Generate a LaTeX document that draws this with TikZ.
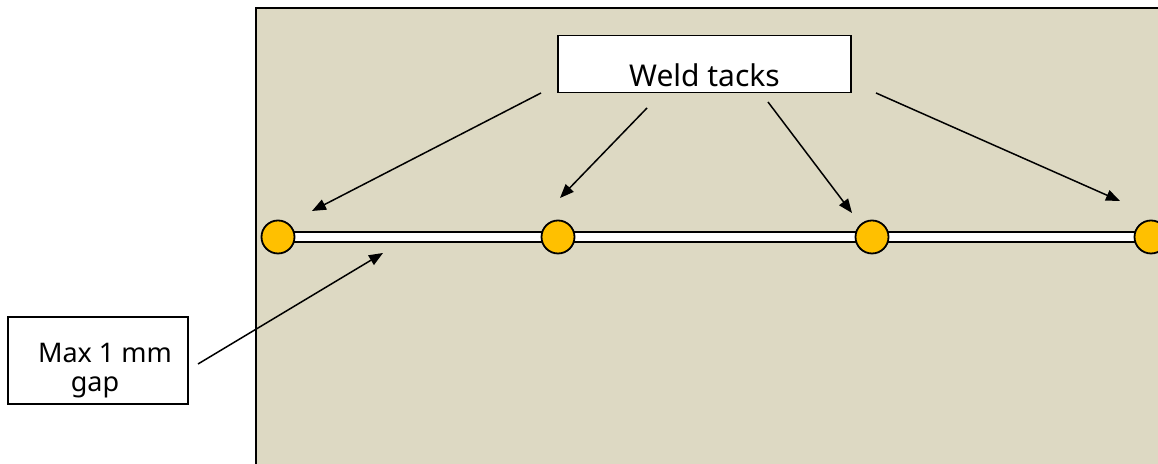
\documentclass[tikz,border=0pt]{standalone}
\usepackage{fontspec}
\setmainfont{Noto Sans}
\usetikzlibrary{arrows.meta,positioning}
\definecolor{plate}{HTML}{DDD9C3}
\definecolor{tackfill}{HTML}{FFC000}
\begin{document}
\begin{tikzpicture}[x=1bp,y=1bp,>={Triangle[length=14bp,width=11bp]},
                    semithick]
  \tikzstyle{tack}=[circle,draw=black,line width=1.8bp,fill=tackfill,
                    minimum size=33bp,inner sep=0pt]
  \tikzstyle{notebox}=[draw=black,line width=1.6bp,fill=white,inner sep=0pt]
  \tikzstyle{pointer}=[->,line width=1.5bp]

  \useasboundingbox (0,0) rectangle (1158,464);
  \clip (0,0) rectangle (1158,464);

  \draw[fill=plate,line width=2bp] (256,-10) -- (256,456) -- (1170,456)
                                   -- (1170,-10) -- cycle;
  \draw[fill=white,line width=1.3bp] (278,222) rectangle (1170,232);

  \node[tack] (T1) at (278,227)  {};
  \node[tack] (T2) at (558,227)  {};
  \node[tack] (T3) at (872,227)  {};
  \node[tack] (T4) at (1151,227) {};

  \node[notebox,minimum width=293bp,text height=51.5bp,text depth=5.5bp,
        font=\fontsize{30bp}{36bp}\selectfont]
        (weld) at (704.5,400) {Weld tacks};
  \node[notebox,minimum width=180bp,minimum height=87bp] (gapbox) at (98,103.5) {};
  \node[align=center,anchor=north,inner sep=0pt,
        font=\fontsize{27bp}{29bp}\selectfont]
        (gaptext) at (95,121) {\hspace*{20bp}Max 1 mm\\gap};

  \coordinate (w1) at (541,371);  \coordinate (e1) at (312,253);
  \coordinate (w2) at (647,356);  \coordinate (e2) at (560,266);
  \coordinate (w3) at (768,362);  \coordinate (e3) at (852,251);
  \coordinate (w4) at (876,371);  \coordinate (e4) at (1120,263);
  \coordinate (g1) at (198,100);  \coordinate (g2) at (383,211);

  \path[pointer] (w1) edge (e1)
                 (w2) edge (e2)
                 (w3) edge (e3)
                 (w4) edge (e4)
                 (g1) edge (g2);
\end{tikzpicture}
\end{document}
